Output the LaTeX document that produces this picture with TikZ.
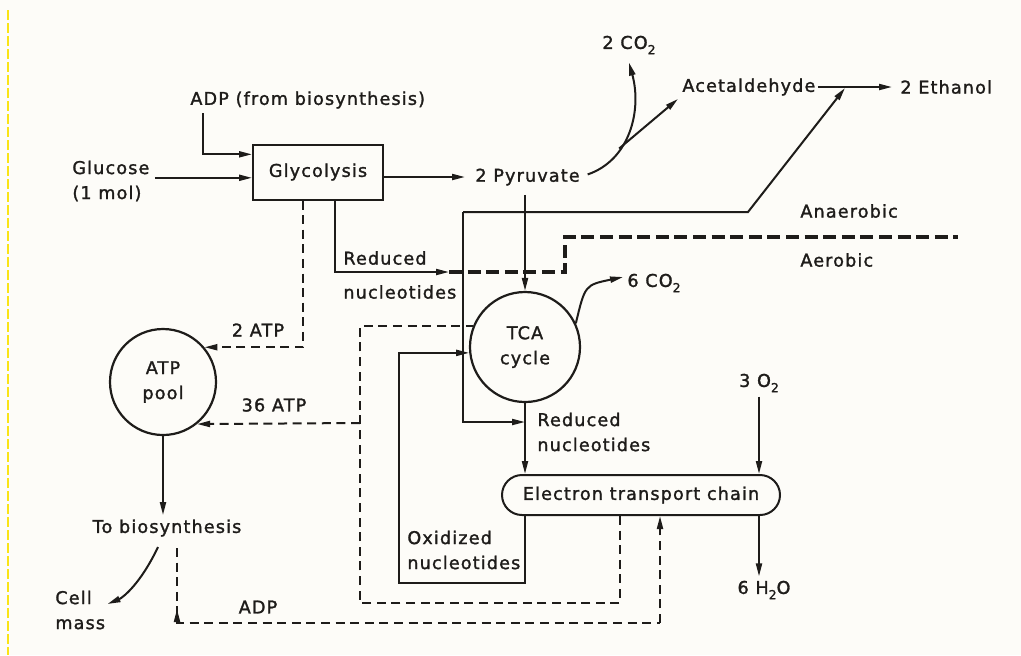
\documentclass[tikz,border=0pt]{standalone}
\usepackage{fontspec}
\setmainfont{DejaVu Sans}
\newfontfamily\diagfont{DejaVu Sans}[LetterSpace=6.5, FakeBold=1.5]
\usetikzlibrary{arrows.meta,positioning}

\definecolor{paper}{RGB}{253,252,248}
\definecolor{ink}{RGB}{30,28,26}
\definecolor{margin}{RGB}{250,228,20}

\newcommand{\chsub}[1]{\raisebox{-0.55ex}{\fontsize{6.2}{6.2}\selectfont #1}}

\tikzset{
  lbl/.style={font=\diagfont\fontsize{8.8}{12.5}\selectfont, text=ink, inner sep=0pt, align=left},
  solidline/.style={draw=ink, line width=1pt},
  tipped/.style={-{Triangle[length=6.5pt,width=3pt]}},
  flow/.style={solidline, tipped},
  energy/.style={draw=ink, line width=1pt, dash pattern=on 4.5pt off 2.8pt},
  divide/.style={draw=ink, line width=2pt, dash pattern=on 6.5pt off 2.8pt},
  procbox/.style={lbl, align=center, draw=ink, line width=1pt, minimum width=65pt, minimum height=27.5pt},
  pool/.style={lbl, align=center, draw=ink, circle, line width=1.1pt},
  etcbox/.style={lbl, draw=ink, line width=1pt, rounded corners=10pt, minimum width=139pt, minimum height=20pt},
}

\begin{document}
\begin{tikzpicture}[x=0.5pt, y=-0.5pt]

  % page and its edge
  \fill[paper] (0,0) rectangle (1021,655);
  \useasboundingbox (0,0) rectangle (1021,655);
  \draw[margin, line width=1pt, dash pattern=on 5pt off 1.5pt] (8,10) -- (8,655);

  % Glycolysis with its inputs
  \node[procbox] (glyc) at (318,172) {Glycolysis};
  \node[lbl, anchor=west] (adpin) at (190,100) {ADP (from biosynthesis)};
  \node[lbl, anchor=west] (gluc) at (72,181) {Glucose\\(1 mol)};
  \node[lbl, anchor=west] (pyr) at (475,177) {2 Pyruvate};
  \coordinate (adpfoot) at (203,113);
  \draw[flow] (adpfoot) |- (glyc.165);
  \draw[flow, shorten <=2.5pt] (gluc.east |- glyc.185) -- (glyc.185);
  \draw[flow, shorten >=5pt] (glyc.east |- pyr.west) -- (pyr.west);

  % Pyruvate to CO2 and acetaldehyde
  \node[lbl] (co2a) at (629,45) {2 CO\chsub{2}};
  \node[lbl, anchor=west] (acet) at (682,87) {Acetaldehyde};
  \node[lbl, anchor=west] (eth) at (900,87) {2 Ethanol};
  \draw[flow, shorten <=4pt] (pyr.east) .. controls (630,160) and (642,110) .. ([yshift=-4pt]co2a.south)
    coordinate[pos=0.35] (fork);
  \draw[flow] (fork) -- ([shift={(-2pt,-1.5pt)}]acet.south west);
  \draw[flow, shorten <=1pt, shorten >=4pt] (acet.east) -- (eth.west);
  \coordinate (etjoin) at (845,88);

  % Anaerobic / aerobic split
  \coordinate (anL) at (463,212);
  \coordinate (anR) at (748,212);
  \draw[flow] (anL) -- (anR) -- (etjoin);
  \node[lbl, anchor=west] (anaer) at (800,211) {Anaerobic};
  \node[lbl, anchor=west] (aer) at (800,260) {Aerobic};
  \coordinate (sepL) at (449,272);
  \coordinate (sepR) at (958,237);
  \draw[divide] (sepL) -- (sepL -| 565,0) |- (sepR);

  % Reduced nucleotides from glycolysis
  \draw[flow] ([xshift=8.5pt]glyc.south) |- (sepL);
  \node[lbl, anchor=west] (redA) at (343,275) {Reduced\\[4.5pt]nucleotides};

  % TCA cycle
  \node[pool, minimum size=55pt] (tca) at (525,347) {TCA\\cycle};
  \draw[flow, shorten <=4.5pt] (pyr.south -| tca.north) -- (tca.north);
  \node[lbl] (co2b) at (654,283) {6 CO\chsub{2}};
  \draw[flow] (tca.25) .. controls (585,285) .. ([shift={(-2pt,3pt)}]co2b.west);

  % Electron transport chain
  \node[etcbox] (etc) at (641,495) {Electron transport chain};
  \draw[flow] (tca.south) -- (tca.south |- etc.north);
  \node[lbl, anchor=west] (redB) at (537,432) {Reduced\\nucleotides};
  \draw[flow] (anL) |- (tca.south |- 0,422);
  \node[lbl] (o2) at (759,383) {3 O\chsub{2}};
  \node[lbl] (h2o) at (764,590) {6 H\chsub{2}O};
  \draw[flow, shorten <=2pt] (o2.south) -- (o2.south |- etc.north);
  \draw[flow, shorten >=2pt] (o2.south |- etc.south) -- (o2.south |- h2o.north);

  % Oxidized nucleotides back to TCA
  \coordinate (oxcorner) at (399,583);
  \draw[flow] (tca.south |- etc.south) |- (oxcorner) |- (tca.186);
  \node[lbl, anchor=west] (oxid) at (407,550) {Oxidized\\nucleotides};

  % ATP pool
  \node[pool, minimum size=53pt] (atp) at (163,382) {ATP\\pool};
  \draw[energy, tipped] ([xshift=-7.5pt]glyc.south) |- (atp.40);
  \node[lbl] (atp2) at (258,330) {2 ATP};
  \coordinate (atpcorner) at (360,603);
  \coordinate (atpjoin) at (360,423);
  \draw[energy] ([xshift=-10.5pt]etc.south) |- (atpcorner) |- (tca.158);
  \draw[energy, tipped] (atpjoin) -- (atp.-51);
  \node[lbl] (atp36) at (274,405) {36 ATP};

  % Biosynthesis and cell mass
  \node[lbl] (tobio) at (167,528) {To biosynthesis};
  \draw[flow, shorten >=2pt] (atp.south) -- (atp.south |- tobio.north);
  \node[lbl, anchor=west] (cell) at (55,610) {Cell\\mass};
  \coordinate (cellfrom) at (158,547);
  \draw[flow] (cellfrom) .. controls (140,585) and (122,598) .. ([shift={(1pt,3pt)}]cell.east);

  % ADP back to the chain
  \coordinate (adpL) at (177,623);
  \coordinate (adpR) at (660,623);
  \draw[energy] (adpL |- 0,548) -- (adpL) -- (adpR);
  \draw[energy, tipped] (adpR) -- (adpR |- etc.south);
  \draw[flow] ([yshift=2pt]adpL) -- ([yshift=7pt]adpL);
  \node[lbl] (adplab) at (258,607) {ADP};

\end{tikzpicture}
\end{document}
